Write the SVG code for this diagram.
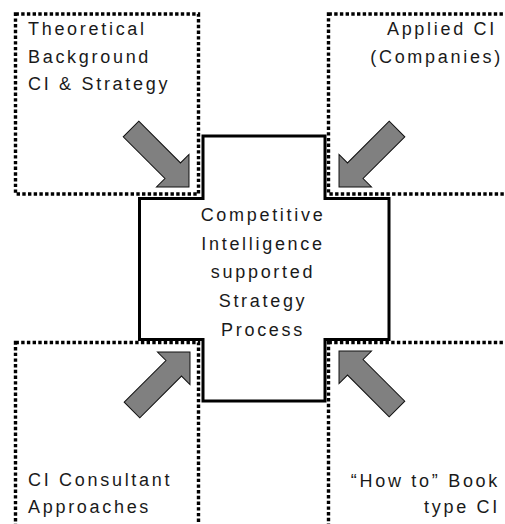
<svg xmlns="http://www.w3.org/2000/svg" width="505" height="524" viewBox="0 0 505 524">
<defs>
<style>
.box{fill:none;stroke:#000;stroke-width:3.4;stroke-dasharray:3.4 2.3}
.cross{fill:#fff;stroke:#000;stroke-width:3;stroke-linejoin:miter}
.arrow{fill:#808080;stroke:#111;stroke-width:1}
text{font-family:"Liberation Sans",Arial,sans-serif;font-size:18px;letter-spacing:2.7px;fill:#1a1a1a}
.end{text-anchor:end}
.mid{text-anchor:middle}
</style>
<path id="blk" class="arrow" d="M0,-11 L59,-11 L59,-23 L82,0 L59,23 L59,11 L0,11 Z"/>
</defs>
<rect width="505" height="524" fill="#fff"/>
<g id="node-theoretical">
<rect class="box" x="15.5" y="14" width="183" height="180"/>
<text x="28" y="35">Theoretical</text>
<text x="28" y="63">Background</text>
<text x="28" y="90">CI &amp; Strategy</text>
</g>
<g id="node-applied">
<rect class="box" x="328.5" y="14" width="200" height="180"/>
<text class="end" x="497" y="35">Applied CI</text>
<text class="end" x="503" y="63">(Companies)</text>
</g>
<g id="node-consultant">
<rect class="box" x="15.5" y="342.5" width="183" height="200"/>
<text x="28" y="486">CI Consultant</text>
<text x="28" y="513">Approaches</text>
</g>
<g id="node-howto">
<rect class="box" x="328.5" y="342.5" width="200" height="200"/>
<text class="end" x="500" y="487">“How to” Book</text>
<text class="end" x="500" y="513">type CI</text>
</g>
<g id="node-center">
<polygon class="cross" points="203,136 325,136 325,198.5 389,198.5 389,339.5 325,339.5 325,401 203,401 203,339.5 139.5,339.5 139.5,198.5 203,198.5"/>
<text class="mid" x="263" y="221">Competitive</text>
<text class="mid" x="263" y="250">Intelligence</text>
<text class="mid" x="263" y="278">supported</text>
<text class="mid" x="263" y="307">Strategy</text>
<text class="mid" x="263" y="336">Process</text>
</g>
<g id="connectors">
<use href="#blk" transform="translate(131,129) rotate(45)"/>
<use href="#blk" transform="translate(397,129) rotate(135)"/>
<use href="#blk" transform="translate(132,410) rotate(-45)"/>
<use href="#blk" transform="translate(397,409) rotate(-135)"/>
</g>
</svg>
